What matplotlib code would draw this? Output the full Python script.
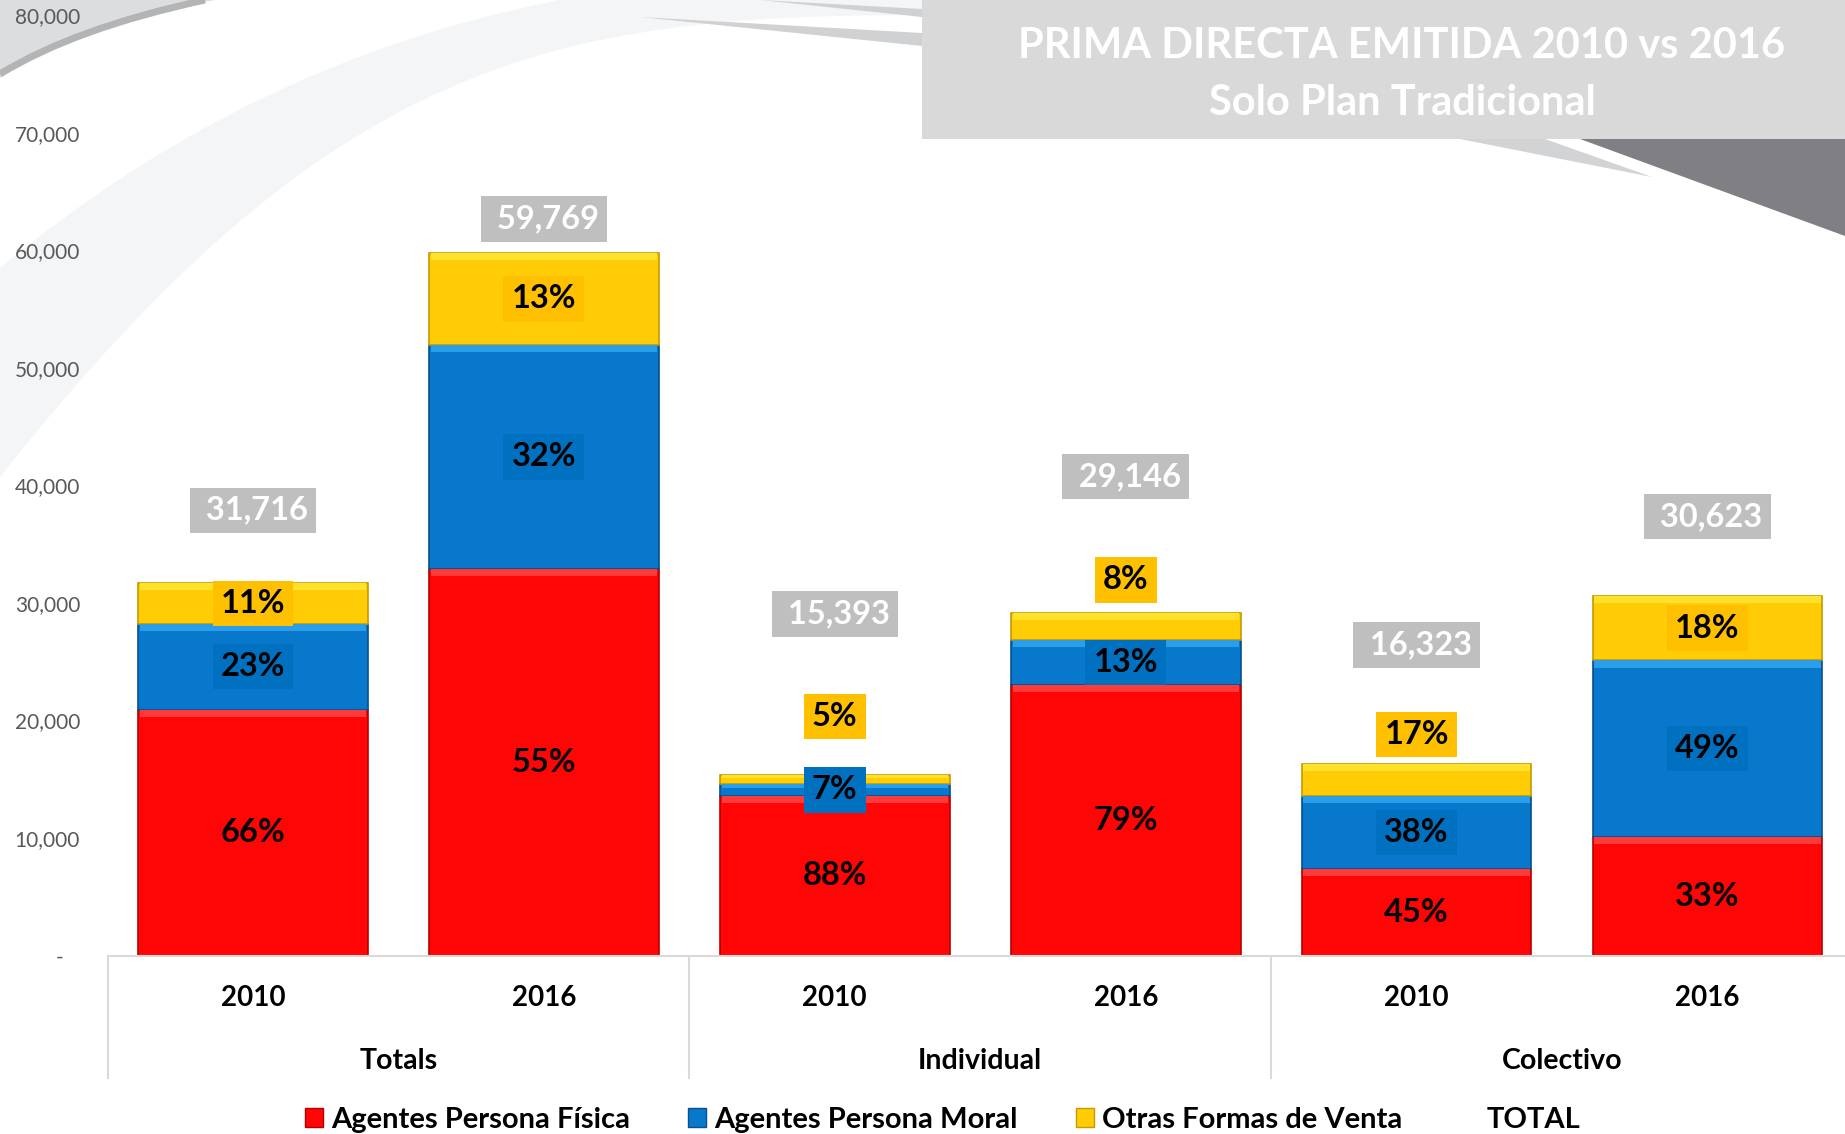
import numpy as np
import matplotlib
matplotlib.use('Agg')
import matplotlib.pyplot as plt
import matplotlib.transforms as mtrans
from matplotlib.patches import Rectangle, PathPatch, Patch
from matplotlib.path import Path

groups = ['Totals', 'Individual', 'Colectivo']
years = ['2010', '2016', '2010', '2016', '2010', '2016']
persona_fisica = [20930, 32870, 13550, 23030, 7350, 10110]
persona_moral = [7300, 19130, 1080, 3790, 6200, 15000]
otras_formas = [3486, 7769, 763, 2326, 2773, 5513]
totals = [31716, 59769, 15393, 29146, 16323, 30623]
series_names = ['Agentes Persona Física', 'Agentes Persona Moral', 'Otras Formas de Venta']

# where the labels sit (y, data units) when not centred in the segment
total_label_y = [37900, 62680, 29060, 40760, 26440, 37350]
yellow_label_y = [None, None, 20330, 31960, 18830, None]

plt.rcParams['font.family'] = ['Lato', 'DejaVu Sans']

fig = plt.figure(figsize=(18.45, 11.34), dpi=100)

# ---- background decoration (pixel coords) ----
bg = fig.add_axes([0, 0, 1, 1], zorder=0)
bg.set_xlim(0, 1845)
bg.set_ylim(1134, 0)
bg.axis('off')

M, L, C3, C4, Z = Path.MOVETO, Path.LINETO, Path.CURVE3, Path.CURVE4, Path.CLOSEPOLY

def shape(verts, codes, **kw):
    bg.add_patch(PathPatch(Path(verts, codes), **kw))

shape([(0, 268), (250, 60), (560, 0), (922, 0), (922, 15), (550, 15), (330, 60), (0, 477), (0, 268)],
      [M, C3, C3, L, L, C4, C4, C4, Z], fc='#f4f5f7', ec='none')
shape([(0, 0), (215, 0), (80, 22), (0, 78), (0, 0)], [M, L, C3, C3, Z], fc='#dcdddf', ec='none')
shape([(205, 0), (75, 28), (0, 74)], [M, C3, C3], fc='none', ec='#b3b4b6', lw=5)
shape([(640, 17), (922, 33), (922, 46), (640, 17)], [M, L, L, Z], fc='#d0d1d3', ec='none')
shape([(760, 0), (922, 9), (922, 17), (760, 0)], [M, L, L, Z], fc='#d0d1d3', ec='none')
shape([(1580, 139), (1845, 236), (1845, 139), (1580, 139)], [M, L, L, Z], fc='#808084', ec='none')
shape([(1460, 139), (1545, 139), (1652, 177), (1460, 139)], [M, L, L, Z], fc='#d2d3d5', ec='none')

bg.add_patch(Rectangle((922, 0), 923, 139, fc='#d9d9d9', ec='none'))
bg.text(1402, 46, 'PRIMA DIRECTA EMITIDA 2010 vs 2016', ha='center', va='center',
        color='white', fontsize=30, fontweight='bold')
bg.text(1402, 103, 'Solo Plan Tradicional', ha='center', va='center',
        color='white', fontsize=30, fontweight='bold')

# ---- chart ----
ax = fig.add_axes([0.0583, 0.1574, 0.946, 0.8289], zorder=1)
ax.patch.set_alpha(0)

x = np.arange(len(years))
w = 0.79
series = [persona_fisica, persona_moral, otras_formas]
colors = ['#ff0505', '#0878cc', '#ffcc05']
edges = ['#b80000', '#05508f', '#c79a00']
shine = ['#ff3a3a', '#2a9ee8', '#ffe22a']
box_colors = ['#ff0505', '#0070c0', '#ffc000']

bottom = np.zeros(len(x))
for k, vals in enumerate(series):
    vals = np.array(vals, dtype=float)
    ax.bar(x, vals, w, bottom=bottom, color=colors[k], edgecolor=edges[k], lw=1.2, zorder=2)
    hl = np.minimum(vals * 0.35, 600)
    ax.bar(x, hl, w * 0.985, bottom=bottom + vals - hl, color=shine[k], lw=0, zorder=2.5)
    for i in range(len(x)):
        pct = round(vals[i] / totals[i] * 100)
        y = bottom[i] + vals[i] / 2
        if k == 2 and yellow_label_y[i] is not None:
            y = yellow_label_y[i]
        ax.text(x[i], y, f'{pct}%', ha='center', va='center', fontsize=23.5, fontweight='bold',
                color='black', zorder=4,
                bbox=dict(boxstyle='square,pad=0.25', fc=box_colors[k], ec='none'))
    bottom += vals

for i in range(len(x)):
    ax.text(x[i], total_label_y[i], f' {totals[i]:,}', ha='center', va='center', fontsize=23.5,
            fontweight='bold', color='white', zorder=4,
            bbox=dict(boxstyle='square,pad=0.25', fc='#bfbfbf', ec='none'))

ax.set_xlim(-0.5, 5.5)
ax.set_ylim(0, 80000)
ax.set_yticks(range(0, 80001, 10000))
ax.yaxis.set_major_formatter(lambda v, p: f'{v:,.0f}' if v else '-   ')
ax.tick_params(axis='y', length=0, pad=19.8, labelsize=15, labelcolor='#595959')
ax.set_xticks(x, years)
ax.tick_params(axis='x', length=0, pad=21, labelsize=20)
for lbl in ax.get_xticklabels():
    lbl.set_fontweight('bold')

for s in ['top', 'right', 'left']:
    ax.spines[s].set_visible(False)
ax.spines['bottom'].set_color('#d9d9d9')
ax.spines['bottom'].set_linewidth(1.5)

trans = mtrans.blended_transform_factory(ax.transData, ax.transAxes)
for sx in [-0.5, 1.5, 3.5]:
    ax.plot([sx, sx], [0, -0.1298], transform=trans, color='#d9d9d9', lw=1.5, clip_on=False)
for g, gx in zip(groups, [0.5, 2.5, 4.5]):
    ax.annotate(g, xy=(gx, 0), xycoords=trans, xytext=(0, -76), textcoords='offset points',
                ha='center', va='center', fontsize=20.5, fontweight='bold')

handles = [Patch(fc=c, ec=e) for c, e in zip(colors, edges)] + [Patch(fc='none', ec='none')]
fig.legend(handles, series_names + ['TOTAL'], loc='center', bbox_to_anchor=(0.511, 0.0125),
           ncol=4, frameon=False, prop={'weight': 'bold', 'size': 21},
           handlelength=0.6, handleheight=0.6, handletextpad=0.29, columnspacing=2.0)

fig.savefig('out.png', dpi=100)
